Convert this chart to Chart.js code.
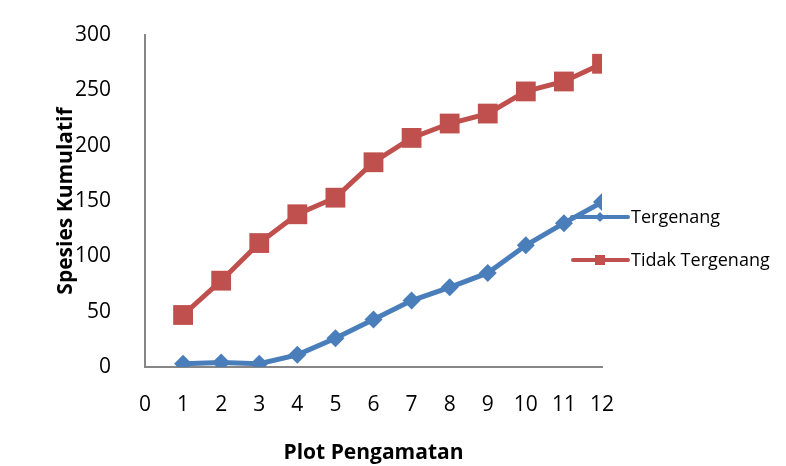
<!DOCTYPE html>
<html>
<head>
<meta charset="utf-8">
<script src="https://cdn.jsdelivr.net/npm/chart.js@4"></script>
<style>
  html, body { margin: 0; padding: 0; background: #fff; }
  #wrap { width: 786px; height: 466px; }
</style>
</head>
<body>
<div id="wrap"><canvas id="speciesChart" width="786" height="466"></canvas></div>
<script>
const plots = [1, 2, 3, 4, 5, 6, 7, 8, 9, 10, 11, 12];
const tergenang = [3, 4, 3, 11, 26, 43, 60, 72, 85, 110, 130, 149];
const tidakTergenang = [47, 78, 112, 138, 153, 185, 207, 220, 229, 249, 258, 274];

const blue = "#4a7ebb";
const red = "#c0504d";
const axisGray = "#868686";
const fontFamily = "'Open Sans', 'Liberation Sans', sans-serif";

const toPoints = (vals) => vals.map((v, i) => ({ x: plots[i], y: v }));

// legend sits on the right and overlaps the plot a little, so draw it by hand
const sideLegend = {
  id: "sideLegend",
  afterDraw(chart) {
    const ctx = chart.ctx;
    const items = [
      { text: "Tergenang", color: blue, shape: "diamond", y: 217, x0: 572 },
      { text: "Tidak Tergenang", color: red, shape: "square", y: 260, x0: 573 }
    ];
    ctx.save();
    items.forEach((it) => {
      ctx.strokeStyle = it.color;
      ctx.lineWidth = 4;
      ctx.lineCap = "round";
      ctx.beginPath();
      ctx.moveTo(it.x0, it.y);
      ctx.lineTo(628, it.y);
      ctx.stroke();
      ctx.fillStyle = it.color;
      ctx.beginPath();
      if (it.shape === "diamond") {
        ctx.moveTo(600, it.y - 5);
        ctx.lineTo(605, it.y);
        ctx.lineTo(600, it.y + 5);
        ctx.lineTo(595, it.y);
        ctx.closePath();
      } else {
        ctx.rect(595, it.y - 5, 10, 10);
      }
      ctx.fill();
      ctx.fillStyle = "#000";
      ctx.font = "18px " + fontFamily;
      ctx.textBaseline = "middle";
      ctx.fillText(it.text, 631, it.y + 1);
    });
    ctx.restore();
  }
};

new Chart(document.getElementById("speciesChart"), {
  type: "line",
  data: {
    datasets: [
      {
        label: "Tergenang",
        data: toPoints(tergenang),
        borderColor: blue,
        backgroundColor: blue,
        borderWidth: 5,
        pointStyle: "rectRot",
        pointRadius: 9,
        pointBorderWidth: 0,
        tension: 0
      },
      {
        label: "Tidak Tergenang",
        data: toPoints(tidakTergenang),
        borderColor: red,
        backgroundColor: red,
        borderWidth: 5,
        pointStyle: "rect",
        pointRadius: 14,
        pointBorderWidth: 0,
        tension: 0
      }
    ]
  },
  options: {
    responsive: false,
    animation: false,
    layout: { padding: { top: 35, right: 184, left: 53, bottom: 0 } },
    plugins: { legend: { display: false }, tooltip: { enabled: false } },
    scales: {
      x: {
        type: "linear",
        min: 0,
        max: 12,
        grid: { display: false },
        border: { display: true, color: axisGray, width: 2 },
        ticks: { stepSize: 1, color: "#000", padding: 17, font: { family: fontFamily, size: 21 } },
        title: {
          display: true,
          text: "Plot Pengamatan",
          color: "#000",
          padding: { top: 14, bottom: 0 },
          font: { family: fontFamily, size: 21, weight: "bold" }
        },
        afterFit(scale) { scale.height = 466 - 367; }
      },
      y: {
        min: 0,
        max: 300,
        grid: { display: false },
        border: { display: true, color: axisGray, width: 2 },
        ticks: { stepSize: 50, color: "#000", padding: 26, font: { family: fontFamily, size: 21 } },
        title: {
          display: true,
          text: "Spesies Kumulatif",
          color: "#000",
          padding: { top: 0, bottom: 0 },
          font: { family: fontFamily, size: 21, weight: "bold" }
        },
        afterFit(scale) {
          scale.width = 145 - 53;
          scale.paddingTop = 0;
          scale.paddingBottom = 0;
        }
      }
    }
  },
  plugins: [sideLegend]
});
</script>
</body>
</html>
